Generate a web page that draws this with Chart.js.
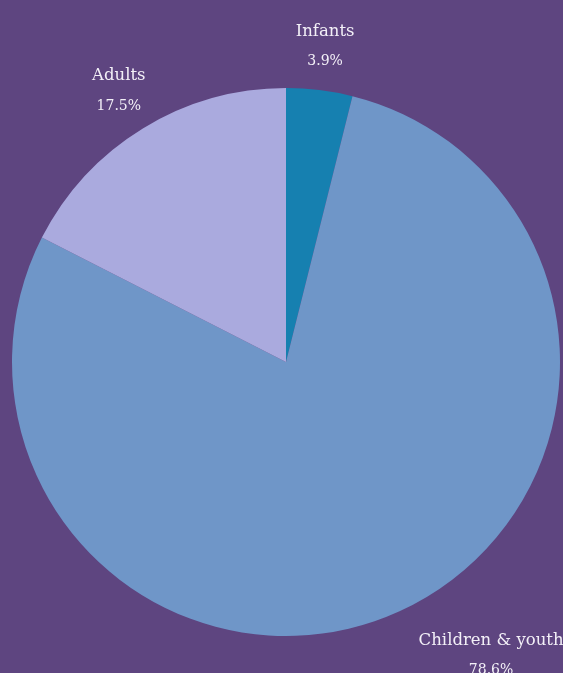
<!DOCTYPE html>
<html>
<head>
<meta charset="utf-8">
<script src="https://cdn.jsdelivr.net/npm/chart.js@4/dist/chart.umd.min.js"></script>
<style>
  html, body { margin: 0; padding: 0; background: #5e4580; }
  #wrap { width: 563px; height: 673px; }
</style>
</head>
<body>
<div id="wrap"><canvas id="pieChart" width="563" height="673"></canvas></div>
<script>
const categories = ["Infants", "Children & youth", "Adults"]
const shares = [3.9, 78.6, 17.5]
const sliceColors = ["#1680b0", "#6f96c8", "#aaaade"]

// draws the name and percentage outside each slice
const outsideLabels = {
  id: "outsideLabels",
  afterDatasetsDraw(chart) {
    const ctx = chart.ctx
    const meta = chart.getDatasetMeta(0)
    ctx.save()
    ctx.fillStyle = "#f3f0f7"
    ctx.textBaseline = "middle"
    ctx.textAlign = "center"
    meta.data.forEach((arc, i) => {
      const mid = (arc.startAngle + arc.endAngle) / 2
      const r = arc.outerRadius + 46
      let x = arc.x + Math.cos(mid) * r
      const y = arc.y + Math.sin(mid) * r + 1
      ctx.font = "16.5px 'DejaVu Serif', serif"
      // bottom right labels start at their anchor
      if (Math.cos(mid) > 0 && Math.sin(mid) > 0.5) {
        x += ctx.measureText(categories[i]).width / 2
      }
      ctx.fillText(categories[i], x, y - 14)
      ctx.font = "14px 'DejaVu Serif', serif"
      ctx.fillText(shares[i].toFixed(1) + "%", x, y + 16)
    })
    ctx.restore()
  },
}

const config = {
  type: "pie",
  data: {
    labels: categories,
    datasets: [
      {
        data: shares,
        backgroundColor: sliceColors,
        borderWidth: 0,
      },
    ],
  },
  options: {
    responsive: false,
    animation: false,
    layout: {
      padding: { left: 12, right: 3, top: 88, bottom: 37 },
    },
    plugins: {
      legend: { display: false },
      tooltip: { enabled: false },
    },
  },
  plugins: [outsideLabels],
}

const pieChart = new Chart(document.getElementById("pieChart"), config)
</script>
</body>
</html>
